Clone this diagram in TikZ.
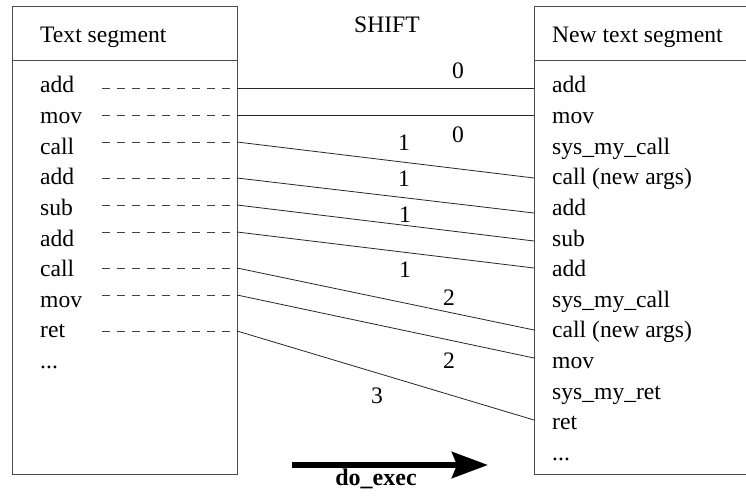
\documentclass[tikz,border=0pt]{standalone}
\usepackage{fontspec}
\setmainfont{Liberation Serif}
\usetikzlibrary{arrows.meta}
\newcommand\mydots{...}
\begin{document}
\begin{tikzpicture}[x=1pt,y=-1pt,
  boxline/.style={draw=black!70,line width=1pt},
  conn/.style={draw=black!85,line width=0.8pt},
  dashconn/.style={draw=black!75,line width=0.9pt,dash pattern=on 8pt off 7pt},
  txt/.style={inner sep=0pt,anchor=base west,font=\fontsize{23.6}{28}\selectfont},
  num/.style={inner sep=0pt,anchor=center,font=\fontsize{23.6}{28}\selectfont}]
\useasboundingbox (0,0) rectangle (746,497);
\clip (0,0) rectangle (746,497);
% boxes
\draw[boxline] (12,7) rectangle (237,474);
\draw[boxline] (12,61) -- (237,61);
\draw[boxline] (534,7) rectangle (770,474);
\draw[boxline] (534,61) -- (770,61);
% headers
\node[txt] (lh) at (40,43) {Text segment};
\node[txt] (rh) at (552,43) {New text segment};
\node[txt,anchor=base] (shift) at (387,33) {SHIFT};
% left rows
\foreach \t [count=\i from 0] in {add,mov,call,add,sub,add,call,mov,ret,\mydots}
  \node[txt] (l\i) at (40,93+30.6*\i) {\t};
% right rows
\foreach \t [count=\i from 0] in {add,mov,sys\_my\_call,call (new args),add,sub,add,sys\_my\_call,call (new args),mov,sys\_my\_ret,ret,\mydots}
  \node[txt] (r\i) at (552,93+30.6*\i) {\t};
% connectors
\foreach \i/\ya/\yb in {0/88/88,1/115/115,2/142/178,3/178/213,4/205/241,5/232/268,6/268/330,7/295/358,8/331/420}{
  \coordinate (ds\i) at (102,\ya);
  \coordinate (le\i) at (237,\ya);
  \coordinate (re\i) at (534,\yb);
  \draw[dashconn] (ds\i) -- (le\i);
  \draw[conn] (le\i) -- (re\i);
}
% shift labels
\node[num] (n0a) at (458,71) {0};
\node[num] (n0b) at (458,135) {0};
\node[num] (n1a) at (404,143) {1};
\node[num] (n1b) at (404,179) {1};
\node[num] (n1c) at (405,215) {1};
\node[num] (n1d) at (405,270) {1};
\node[num] (n2a) at (449,298) {2};
\node[num] (n2b) at (449,361) {2};
\node[num] (n3) at (377,396) {3};
% do_exec arrow
\coordinate (as) at (292,465);
\coordinate (ae) at (488,465);
\draw[line width=6pt,-{Stealth[length=36pt,width=26pt,inset=5pt]}] (as) -- (ae);
\node[txt,anchor=base,font=\fontsize{24}{28}\selectfont\bfseries] (dx) at (376,485) {do\_exec};
\end{tikzpicture}
\end{document}
